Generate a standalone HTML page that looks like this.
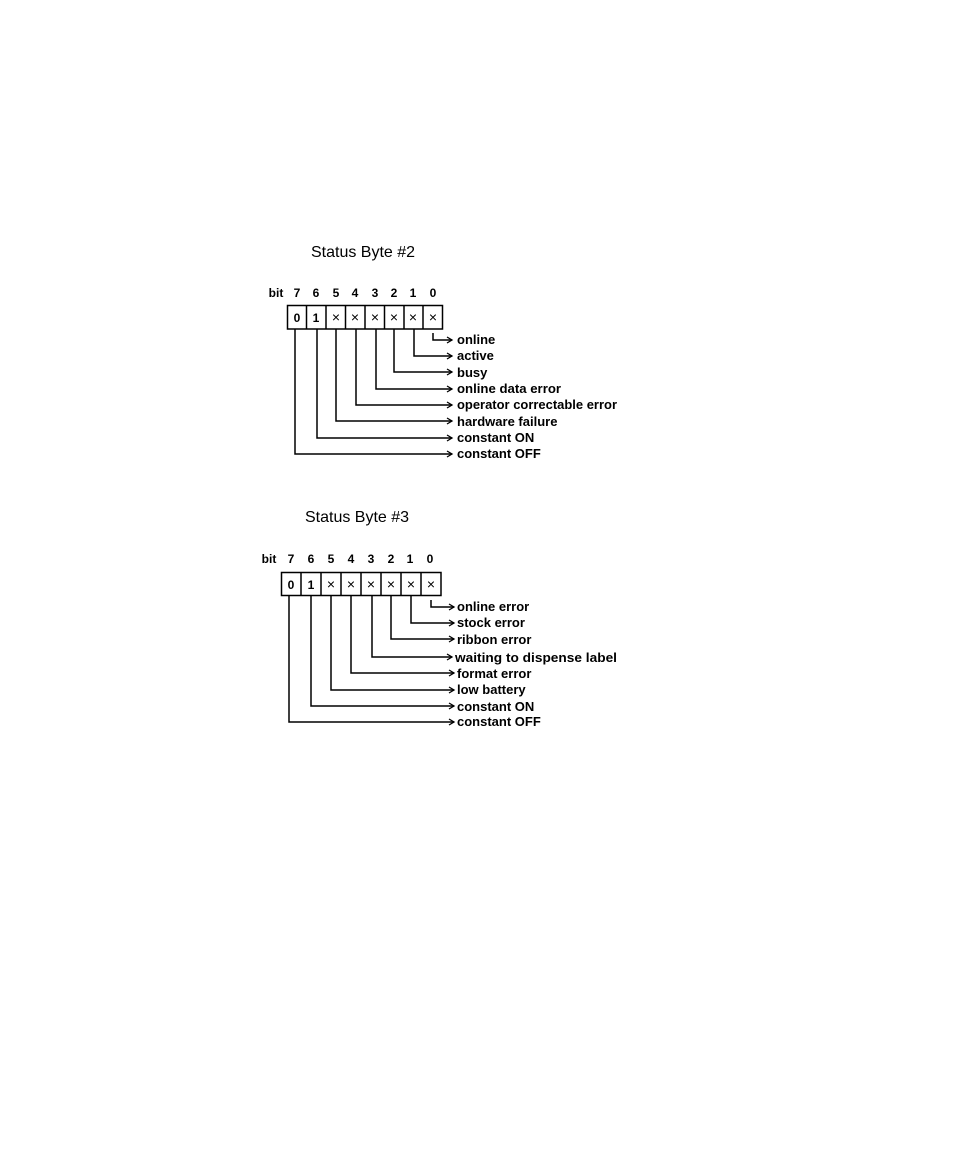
<!DOCTYPE html>
<html><head><meta charset="utf-8"><style>
html,body{margin:0;padding:0;background:#fff;}
svg{display:block;}
text{font-family:"Liberation Sans",sans-serif;fill:#000;}
.t{font-size:16px;}
.b{font-size:12px;font-weight:bold;}
.x{font-size:14px;}
.l{font-size:13px;font-weight:bold;}
</style></head><body>
<svg width="954" height="1151" viewBox="0 0 954 1151" xmlns="http://www.w3.org/2000/svg">
<defs>
<marker id="a" markerWidth="8" markerHeight="8" refX="6" refY="4" orient="auto" markerUnits="userSpaceOnUse">
<path d="M1,1 L6,4 L1,7" fill="none" stroke="#000" stroke-width="1.3"/>
</marker>
</defs>
<g stroke="#000" stroke-width="1.5" fill="none">
<rect x="287.5" y="305.5" width="155" height="23.5"/>
<line x1="306.5" y1="305" x2="306.5" y2="329"/>
<line x1="326" y1="305" x2="326" y2="329"/>
<line x1="345.5" y1="305" x2="345.5" y2="329"/>
<line x1="365" y1="305" x2="365" y2="329"/>
<line x1="384.5" y1="305" x2="384.5" y2="329"/>
<line x1="404" y1="305" x2="404" y2="329"/>
<line x1="423" y1="305" x2="423" y2="329"/>
<polyline points="433,333 433,340 452,340" marker-end="url(#a)"/>
<polyline points="414,329 414,356 452,356" marker-end="url(#a)"/>
<polyline points="394,329 394,372 452,372" marker-end="url(#a)"/>
<polyline points="376,329 376,389 452,389" marker-end="url(#a)"/>
<polyline points="356,329 356,405 452,405" marker-end="url(#a)"/>
<polyline points="336,329 336,421 452,421" marker-end="url(#a)"/>
<polyline points="317,329 317,438 452,438" marker-end="url(#a)"/>
<polyline points="295,329 295,454 452,454" marker-end="url(#a)"/>
<rect x="281.5" y="572.5" width="159.5" height="23"/>
<line x1="301" y1="572" x2="301" y2="596"/>
<line x1="321" y1="572" x2="321" y2="596"/>
<line x1="341" y1="572" x2="341" y2="596"/>
<line x1="361" y1="572" x2="361" y2="596"/>
<line x1="381" y1="572" x2="381" y2="596"/>
<line x1="401" y1="572" x2="401" y2="596"/>
<line x1="421" y1="572" x2="421" y2="596"/>
<polyline points="431,600 431,607 454,607" marker-end="url(#a)"/>
<polyline points="411,596 411,623 454,623" marker-end="url(#a)"/>
<polyline points="391,596 391,639 454,639" marker-end="url(#a)"/>
<polyline points="372,596 372,657 452,657" marker-end="url(#a)"/>
<polyline points="351,596 351,673 454,673" marker-end="url(#a)"/>
<polyline points="331,596 331,690 454,690" marker-end="url(#a)"/>
<polyline points="311,596 311,706 454,706" marker-end="url(#a)"/>
<polyline points="289,596 289,722 454,722" marker-end="url(#a)"/>
</g>
<text class="t" x="311" y="257">Status Byte #2</text>
<text class="t" x="305" y="522">Status Byte #3</text>
<g text-anchor="middle">
<text x="276" y="297" class="b">bit</text>
<text x="297" y="297" class="b">7</text><text x="316" y="297" class="b">6</text><text x="336" y="297" class="b">5</text><text x="355" y="297" class="b">4</text><text x="375" y="297" class="b">3</text><text x="394" y="297" class="b">2</text><text x="413" y="297" class="b">1</text><text x="433" y="297" class="b">0</text>
<text x="297" y="322" class="b">0</text><text x="316" y="322" class="b">1</text><text x="336" y="322" class="x">×</text><text x="355" y="322" class="x">×</text><text x="375" y="322" class="x">×</text><text x="394" y="322" class="x">×</text><text x="413" y="322" class="x">×</text><text x="433" y="322" class="x">×</text>
<text x="269" y="563" class="b">bit</text>
<text x="291" y="563" class="b">7</text><text x="311" y="563" class="b">6</text><text x="331" y="563" class="b">5</text><text x="351" y="563" class="b">4</text><text x="371" y="563" class="b">3</text><text x="391" y="563" class="b">2</text><text x="410" y="563" class="b">1</text><text x="430" y="563" class="b">0</text>
<text x="291" y="589" class="b">0</text><text x="311" y="589" class="b">1</text><text x="331" y="589" class="x">×</text><text x="351" y="589" class="x">×</text><text x="371" y="589" class="x">×</text><text x="391" y="589" class="x">×</text><text x="411" y="589" class="x">×</text><text x="431" y="589" class="x">×</text>
</g>
<g>
<text class="l" x="457" y="344">online</text>
<text class="l" x="457" y="360">active</text>
<text class="l" x="457" y="377">busy</text>
<text class="l" x="457" y="393" textLength="104" lengthAdjust="spacingAndGlyphs">online data error</text>
<text class="l" x="457" y="409" textLength="160" lengthAdjust="spacingAndGlyphs">operator correctable error</text>
<text class="l" x="457" y="426">hardware failure</text>
<text class="l" x="457" y="442">constant ON</text>
<text class="l" x="457" y="458">constant OFF</text>
<text class="l" x="457" y="611">online error</text>
<text class="l" x="457" y="627">stock error</text>
<text class="l" x="457" y="644">ribbon error</text>
<text class="l" x="455" y="662" textLength="162" lengthAdjust="spacingAndGlyphs">waiting to dispense label</text>
<text class="l" x="457" y="678">format error</text>
<text class="l" x="457" y="694">low battery</text>
<text class="l" x="457" y="711">constant ON</text>
<text class="l" x="457" y="726">constant OFF</text>
</g>
</svg>
</body></html>
